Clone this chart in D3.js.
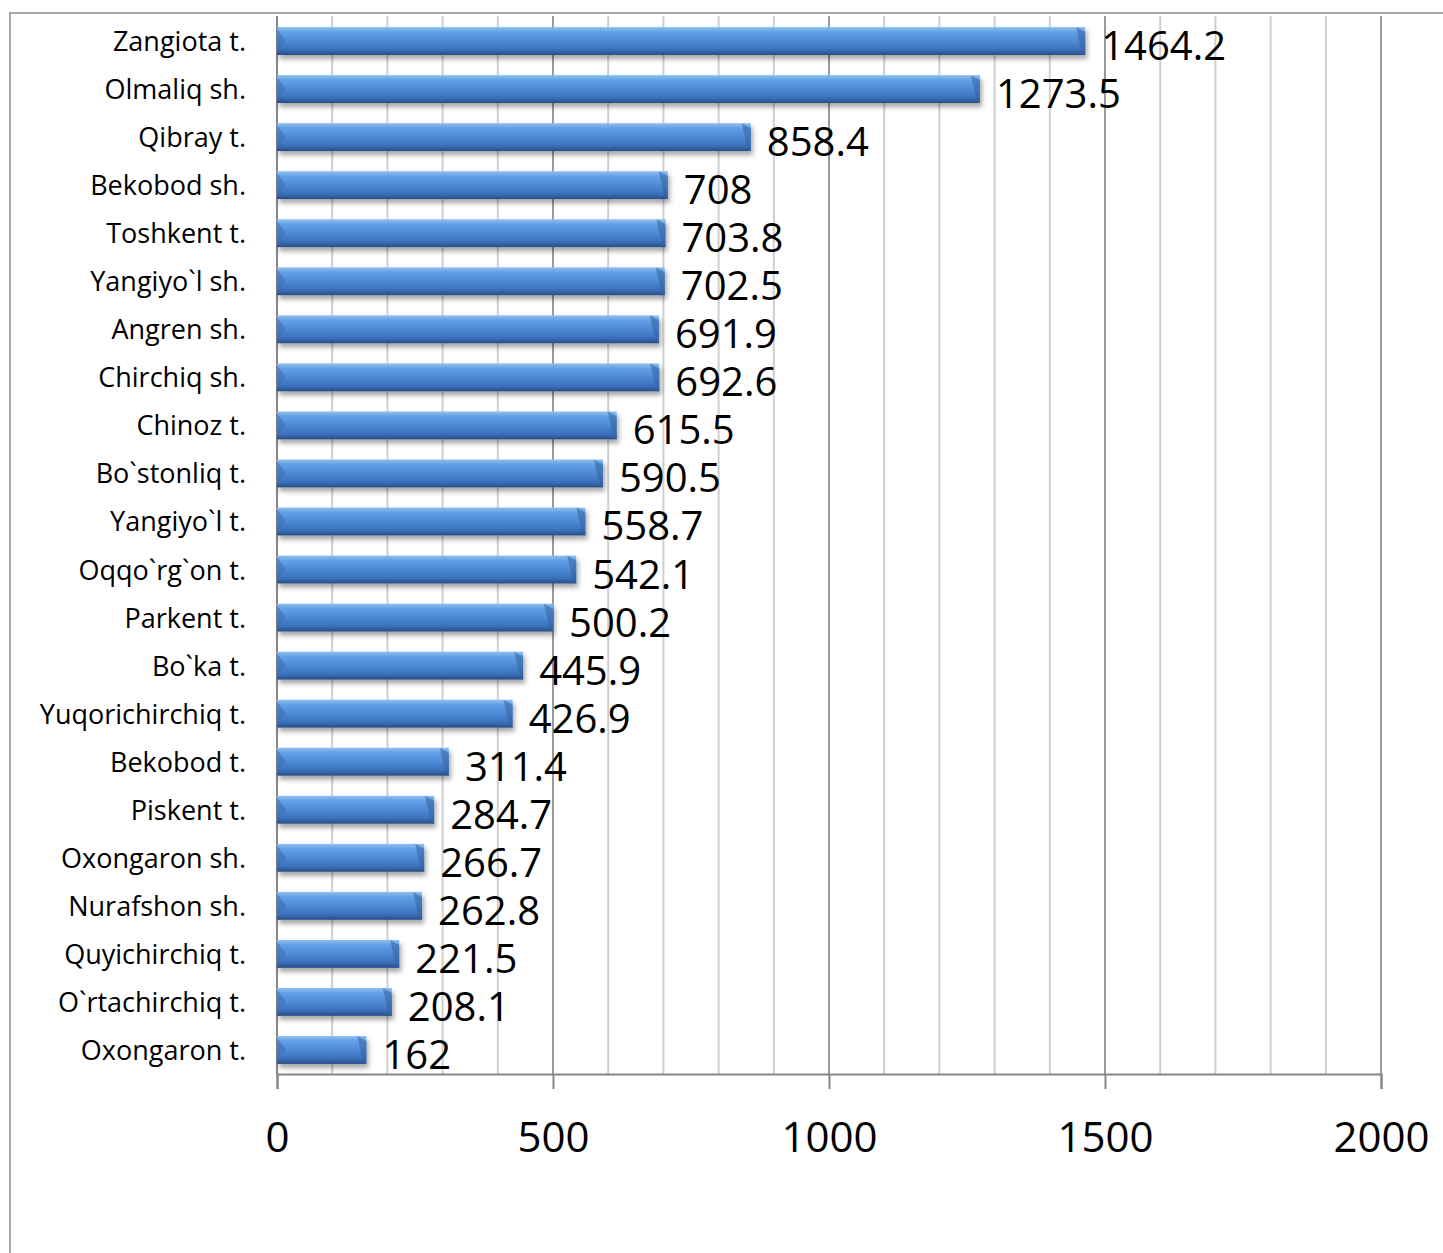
<!DOCTYPE html>
<html>
<head>
<meta charset="utf-8">
<script src="https://cdn.jsdelivr.net/npm/d3@7"></script>
<style>
  body { margin: 0; background: #fff; }
  text { font-family: "Open Sans", sans-serif; fill: #000; }
</style>
</head>
<body>
<div id="chart"></div>
<script>
// data (top to bottom)
var categories = ["Zangiota t.", "Olmaliq sh.", "Qibray t.", "Bekobod sh.", "Toshkent t.",
	"Yangiyo`l sh.", "Angren sh.", "Chirchiq sh.", "Chinoz t.", "Bo`stonliq t.",
	"Yangiyo`l t.", "Oqqo`rg`on t.", "Parkent t.", "Bo`ka t.", "Yuqorichirchiq t.",
	"Bekobod t.", "Piskent t.", "Oxongaron sh.", "Nurafshon sh.", "Quyichirchiq t.",
	"O`rtachirchiq t.", "Oxongaron t."];
var values = [1464.2, 1273.5, 858.4, 708, 703.8, 702.5, 691.9, 692.6, 615.5, 590.5,
	558.7, 542.1, 500.2, 445.9, 426.9, 311.4, 284.7, 266.7, 262.8, 221.5, 208.1, 162];
var majorTicks = [0, 500, 1000, 1500, 2000];
var minorTicks = d3.range(100, 2001, 100);

var w = 1443, h = 1253;
var rows = categories.map(function(c, i){ return {name: c, value: values[i]}; });

var svg = d3.select("#chart").append("svg")
	.attr("width", w)
	.attr("height", h);

var defs = svg.append("defs");
var grad = defs.append("linearGradient")
	.attr("id", "barGrad")
	.attr("x1", 0).attr("y1", 0).attr("x2", 0).attr("y2", 1);
grad.append("stop").attr("offset", "0%").attr("stop-color", "#8fc0f2");
grad.append("stop").attr("offset", "18%").attr("stop-color", "#62a0e6");
grad.append("stop").attr("offset", "55%").attr("stop-color", "#4b86d2");
grad.append("stop").attr("offset", "82%").attr("stop-color", "#3a6fb8");
grad.append("stop").attr("offset", "100%").attr("stop-color", "#274d85");

var shadow = defs.append("filter").attr("id", "shadow")
	.attr("x", "-5%").attr("y", "-30%").attr("width", "115%").attr("height", "180%");
shadow.append("feDropShadow")
	.attr("dx", 2).attr("dy", 4).attr("stdDeviation", 2.5)
	.attr("flood-color", "#000").attr("flood-opacity", 0.35);

// outer frame, runs off the right and bottom edge
svg.append("rect")
	.attr("x", 10).attr("y", 13)
	.attr("width", w).attr("height", h)
	.attr("fill", "none")
	.attr("stroke", "#8a8a8a")
	.attr("stroke-width", 1.5);

var x = d3.scaleLinear().domain([0, 2000]).range([277, 1381]);
var y = d3.scaleBand().domain(categories).range([17, 1074])
	.paddingInner(0.42).paddingOuter(0.21);

// gridlines
svg.append("g").selectAll("line.grid")
	.data(minorTicks)
	.enter()
	.append("line")
	.attr("class", "grid")
	.attr("x1", function(d){ return x(d); })
	.attr("x2", function(d){ return x(d); })
	.attr("y1", 16)
	.attr("y2", 1074)
	.attr("stroke", function(d){ return d % 500 == 0 ? "#9a9a9a" : "#cfcfcf"; })
	.attr("stroke-width", 2);

// left axis line
svg.append("line")
	.attr("x1", x(0)).attr("x2", x(0))
	.attr("y1", 16).attr("y2", 1074)
	.attr("stroke", "#868686").attr("stroke-width", 2);

// bottom axis
var xAxis = d3.axisBottom(x).tickValues(majorTicks).tickSize(15).tickSizeOuter(15).tickFormat(d3.format("d"));
var xAxisCall = svg.append("g")
	.attr("transform", "translate(0,1074)")
	.call(xAxis);
xAxisCall.select(".domain").attr("stroke", "#868686").attr("stroke-width", 2);
xAxisCall.selectAll(".tick line").attr("stroke", "#868686").attr("stroke-width", 2);
xAxisCall.selectAll(".tick text")
	.attr("y", 78).attr("dy", 0)
	.attr("font-size", 42)
	.attr("font-family", "Open Sans")
	.attr("fill", "#000");

// bars
var bars = svg.append("g").selectAll(".bar")
	.data(rows)
	.enter()
	.append("g")
	.attr("class", "bar");

bars.append("rect")
	.attr("x", x(0))
	.attr("y", function(d){ return y(d.name); })
	.attr("width", function(d){ return x(d.value) - x(0); })
	.attr("height", y.bandwidth())
	.attr("fill", "url(#barGrad)")
	.attr("filter", "url(#shadow)");

// bevel faces at both ends
var b = 9;
bars.append("polygon")
	.attr("points", function(d){
		var x0 = x(0), y0 = y(d.name), y1 = y0 + y.bandwidth(), ym = (y0 + y1) / 2;
		return [[x0, y0 + 2], [x0 + b, ym], [x0, y1 - 2]].join(" ");
	})
	.attr("fill", "#3b73bd").attr("opacity", 0.6);
bars.append("polygon")
	.attr("points", function(d){
		var x1 = x(d.value), y0 = y(d.name), y1 = y0 + y.bandwidth();
		return [[x1 - b, y0], [x1, y0 + 5], [x1, y1], [x1 - 3, y1]].join(" ");
	})
	.attr("fill", "#34639f").attr("opacity", 0.55);

// category labels
svg.append("g").selectAll("text")
	.data(rows)
	.enter()
	.append("text")
	.attr("x", 246)
	.attr("y", function(d){ return y(d.name) + y.bandwidth() / 2 + 10; })
	.attr("text-anchor", "end")
	.attr("font-size", 27)
	.text(function(d){ return d.name; });

// value labels
svg.append("g").selectAll("text")
	.data(rows)
	.enter()
	.append("text")
	.attr("x", function(d){ return x(d.value) + 16; })
	.attr("y", function(d){ return y(d.name) + y.bandwidth() / 2 + 19; })
	.attr("font-size", 40)
	.text(function(d){ return String(d.value); });
</script>
</body>
</html>
